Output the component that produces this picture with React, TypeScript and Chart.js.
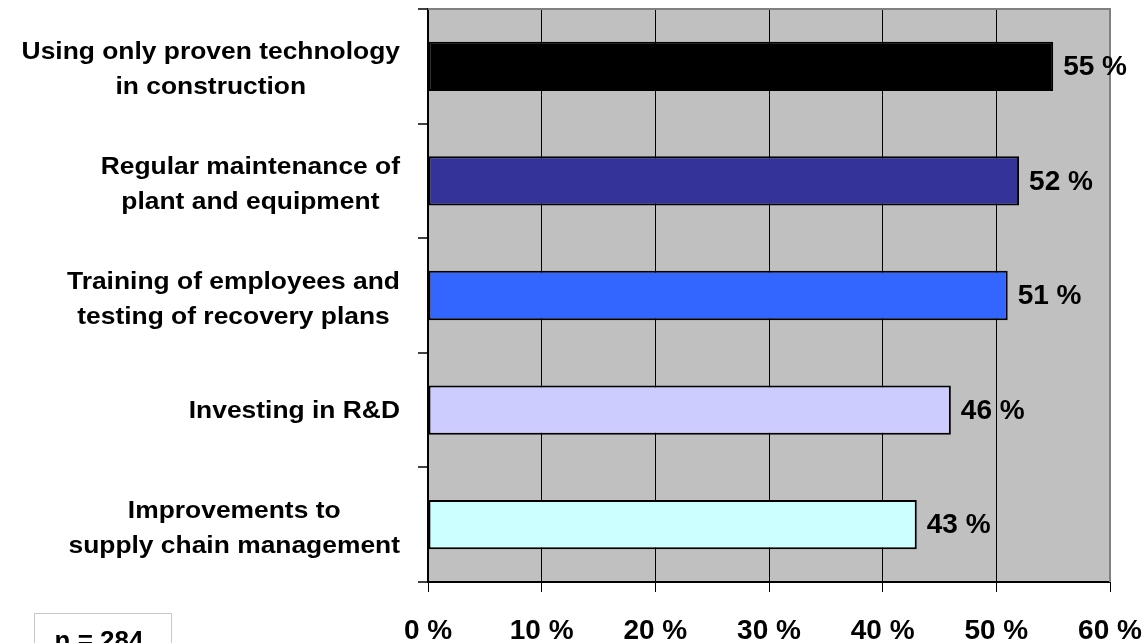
import React, { useEffect, useRef } from 'react';
import { Chart, registerables } from 'chart.js';

Chart.register(...registerables);

// Measures taken, one entry per bar (top to bottom)
const categories: string[][] = [
  ['Using only proven technology', 'in construction'],
  ['Regular maintenance of', 'plant and equipment'],
  ['Training of employees and', 'testing of recovery plans'],
  ['Investing in R&D'],
  ['Improvements to', 'supply chain management'],
];
const shares: number[] = [55, 52, 51, 46, 43];
const barColors: string[] = ['#000000', '#333399', '#3366FF', '#CCCCFF', '#CCFFFF'];

// Percentage axis
const axisMin = 0;
const axisMax = 60;
const axisStep = 10;

const sampleNote = 'n = 284';

const FONT = '"Liberation Sans", Arial, Helvetica, sans-serif';
const LABEL_RIGHT = 400;
const LABEL_STRETCH = 1.1;

const framePlugin = {
  id: 'framePlugin',
  beforeDraw(chart: any) {
    const { ctx, chartArea: a } = chart;
    ctx.save();
    ctx.fillStyle = '#C0C0C0';
    ctx.fillRect(a.left, a.top, a.right - a.left, a.bottom - a.top);
    ctx.restore();
  },
  afterDatasetsDraw(chart: any) {
    const { ctx, chartArea: a } = chart;
    ctx.save();
    // top and right edges of the plot area
    ctx.strokeStyle = '#808080';
    ctx.lineWidth = 2;
    ctx.beginPath();
    ctx.moveTo(a.left, a.top);
    ctx.lineTo(a.right, a.top);
    ctx.lineTo(a.right, a.bottom);
    ctx.stroke();

    // value labels at the end of each bar
    const meta = chart.getDatasetMeta(0);
    ctx.fillStyle = '#000';
    ctx.font = `bold 28px ${FONT}`;
    ctx.textAlign = 'left';
    ctx.textBaseline = 'middle';
    meta.data.forEach((el: any, i: number) => {
      ctx.fillText(`${shares[i]} %`, el.x + 10, el.y + 1);
    });
    ctx.restore();
  },
  afterDraw(chart: any) {
    const { ctx } = chart;
    const yScale = chart.scales.y;
    ctx.save();
    ctx.fillStyle = '#000';
    ctx.font = `bold 24px ${FONT}`;
    ctx.textAlign = 'center';
    ctx.textBaseline = 'alphabetic';
    categories.forEach((lines, i) => {
      const c = yScale.getPixelForValue(i);
      const widest = Math.max(...lines.map((l) => ctx.measureText(l).width * LABEL_STRETCH));
      const cx = LABEL_RIGHT - widest / 2;
      const baselines = lines.length === 1 ? [c + 8] : [c - 7, c + 28];
      lines.forEach((line, j) => {
        ctx.save();
        ctx.translate(cx, baselines[j]);
        ctx.scale(LABEL_STRETCH, 1);
        ctx.fillText(line, 0, 0);
        ctx.restore();
      });
    });

    // sample size box, bottom left
    ctx.strokeStyle = '#C8C8C8';
    ctx.lineWidth = 1;
    ctx.strokeRect(34.5, 613.5, 137, 60);
    ctx.font = `bold 26px ${FONT}`;
    ctx.textAlign = 'center';
    ctx.fillText(sampleNote, 99, 648.6);
    ctx.restore();
  },
};

export default function App() {
  const canvasRef = useRef<HTMLCanvasElement | null>(null);

  useEffect(() => {
    if (!canvasRef.current) return;
    const chart = new Chart(canvasRef.current, {
      type: 'bar',
      data: {
        labels: categories.map((l) => l.join(' ')),
        datasets: [
          {
            data: shares,
            backgroundColor: barColors,
            borderColor: '#000000',
            borderWidth: 2,
            borderSkipped: false,
            barPercentage: 0.43,
            categoryPercentage: 1,
          },
        ],
      },
      options: {
        indexAxis: 'y',
        animation: false,
        responsive: true,
        maintainAspectRatio: false,
        layout: { padding: { top: 9, right: 37, left: 0, bottom: 0 } },
        plugins: {
          legend: { display: false },
          tooltip: { enabled: false },
        },
        scales: {
          x: {
            type: 'linear',
            min: axisMin,
            max: axisMax,
            afterFit: (scale: any) => {
              scale.height = 61;
              scale.paddingLeft = 0;
              scale.paddingRight = 0;
            },
            ticks: {
              stepSize: axisStep,
              padding: 22,
              color: '#000',
              font: { family: FONT, size: 28, weight: 'bold' },
              callback: (v: any) => `${v} %`,
              maxRotation: 0,
            },
            grid: {
              color: '#000',
              lineWidth: 1,
              tickLength: 10,
              drawOnChartArea: true,
            },
            border: { display: true, color: '#000', width: 2 },
          },
          y: {
            type: 'category',
            afterFit: (scale: any) => {
              scale.width = 428;
              scale.paddingTop = 0;
              scale.paddingBottom = 0;
            },
            ticks: { display: false },
            grid: {
              offset: true,
              drawOnChartArea: false,
              color: '#404040',
              lineWidth: 2,
              tickLength: 10,
            },
            border: { display: true, color: '#000', width: 2 },
          },
        },
      },
      plugins: [framePlugin],
    });
    return () => chart.destroy();
  }, []);

  return (
    <div style={{ position: 'fixed', left: 0, top: 0, width: 1147, height: 643, overflow: 'hidden', background: '#fff' }}>
      <canvas ref={canvasRef} />
    </div>
  );
}
